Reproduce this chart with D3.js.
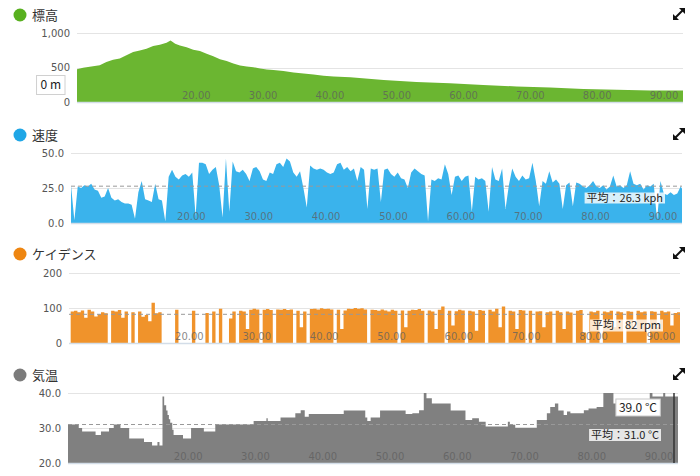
<!DOCTYPE html>
<html><head><meta charset="utf-8">
<script src="https://cdn.jsdelivr.net/npm/d3@7"></script>
<style>body{margin:0;background:#fff;} svg{display:block;}</style>
</head><body><svg id="c" width="700" height="476"></svg>
<script>
// ---------- DATA ----------
const elevKm = [0, 0.9, 1.9, 3.4, 4.4, 5.4, 6.4, 7.4, 8.4, 9.4, 10.4, 11.4, 12.4, 13.4, 14.0, 14.7, 15.4, 16.4, 17.4, 18.4, 19.4, 20.4, 21.4, 22.4, 23.4, 24.4, 25.4, 26.4, 27.4, 28.4, 29.4, 30.9, 32.4, 33.9, 35.4, 36.9, 38.4, 40.9, 45.9, 50.8, 55.8, 60.8, 65.8, 70.8, 75.8, 80.8, 85.8, 91];
const elevVal = [476, 495, 510, 533, 581, 614, 629, 676, 724, 748, 771, 810, 829, 857, 890, 843, 819, 795, 757, 738, 700, 662, 619, 595, 557, 529, 514, 505, 486, 471, 462, 448, 429, 414, 400, 381, 371, 357, 319, 290, 271, 248, 224, 210, 190, 176, 167, 167];

const sampleStepKm = 0.5;
const speedVal = [
 27, 2, 26, 25, 27, 26, 28, 24, 23, 18,
 19, 25, 18, 16, 17, 15, 14, 14, 13, 3,
 22, 30, 17, 16, 15, 28, 17, 16, 1, 33,
 38, 33, 31, 34, 35, 33, 36, 5, 43, 43,
 42, 35, 38, 40, 27, 4, 46, 8, 44, 37,
 36, 38, 35, 30, 39, 40, 37, 31, 30, 36,
 35, 42, 43, 40, 46, 44, 36, 33, 37, 25,
 11, 41, 39, 38, 39, 38, 36, 35, 36, 42,
 43, 38, 40, 37, 39, 30, 40, 38, 10, 39,
 38, 39, 15, 38, 39, 35, 33, 36, 32, 31,
 25, 36, 39, 37, 35, 34, 1, 31, 30, 32,
 31, 42, 35, 20, 33, 34, 30, 33, 34, 8,
 33, 31, 32, 30, 8, 40, 31, 30, 39, 10,
 27, 39, 33, 30, 34, 31, 32, 43, 30, 12,
 30, 28, 37, 29, 31, 28, 10, 27, 29, 12,
 29, 28, 26, 25, 27, 30, 26, 25, 27, 24,
 26, 34, 26, 27, 25, 27, 37, 28, 27, 28,
 24, 27, 26, 28, 2, 30, 21, 20, 22, 20,
 21, 26, 22];

const cadenceVal = [
 0, 90, 92, 88, 93, 72, 95, 90, 76, 82,
 88, 85, 0, 92, 90, 94, 72, 90, 0, 88,
 0, 90, 75, 80, 62, 115, 85, 88, 0, 0,
 0, 0, 95, 0, 0, 0, 0, 92, 0, 0,
 0, 86, 0, 90, 0, 98, 0, 0, 70, 90,
 0, 92, 90, 40, 95, 98, 96, 0, 95, 97,
 94, 0, 96, 95, 97, 94, 96, 0, 92, 45,
 90, 0, 97, 98, 96, 99, 97, 98, 96, 0,
 95, 40, 93, 98, 97, 100, 98, 99, 96, 0,
 95, 94, 92, 96, 93, 90, 95, 92, 0, 93,
 45, 92, 95, 94, 97, 92, 0, 93, 90, 40,
 95, 104, 0, 92, 50, 91, 95, 93, 0, 92,
 90, 35, 94, 92, 0, 95, 90, 98, 45, 104,
 0, 92, 90, 40, 94, 93, 0, 92, 0, 90,
 91, 45, 88, 90, 0, 92, 88, 40, 90, 87,
 0, 92, 94, 30, 0, 90, 88, 92, 0, 90,
 88, 92, 45, 90, 88, 0, 91, 89, 40, 92,
 88, 90, 0, 91, 89, 45, 92, 88, 90, 50,
 86, 88, 85];

const tempKm  = [0, 1.6, 2.1, 4.1, 4.9, 6.1, 6.8, 7.8, 9.1, 11.3, 12.5, 13.3, 13.6, 14.05, 14.3, 14.6, 14.8, 15.0, 15.2, 15.5, 15.7, 17.1, 18.3, 20.2, 21.9, 27.6, 29.5, 29.7, 31.6, 33.8, 34.6, 35.2, 35.8, 41.0, 44.2, 44.5, 45.0, 46.4, 50.2, 51.2, 52.2, 52.9, 53.3, 54.1, 56.9, 59.1, 60.1, 61.1, 62.1, 65.4, 65.7, 66.5, 69.7, 71.2, 71.7, 72.4, 72.9, 73.7, 74.2, 74.7, 76.7, 77.4, 78.6, 79.6, 81.1, 81.9, 86.5, 86.9, 88.5, 88.8, 91];
const tempVal = [31, 30, 29, 28, 29, 30, 31, 30, 27, 26, 25, 26, 25, 39, 36.5, 35, 33.7, 32.5, 31.5, 29.5, 28, 27, 30, 29, 31, 32, 32.8, 32, 33, 34.2, 35.1, 33.2, 34, 35, 33, 32, 33, 35, 34, 34.2, 35.1, 40, 38.5, 37, 35, 32.3, 32.8, 31.8, 30.4, 31.8, 30.9, 30.1, 32.3, 34.2, 36, 37, 35, 33.7, 34.7, 34.2, 35.1, 35.6, 36, 40, 37, 38, 40, 39, 40, 39, 39];

const xTickVals = [20, 30, 40, 50, 60, 70, 80, 90];
const titles = ["標高", "速度", "ケイデンス", "気温"];
const yTicks = [[0, 500, 1000], [0, 25, 50], [0, 100, 200], [20, 30, 40]];
const yDomains = [[0, 1000], [0, 50], [0, 200], [20, 40]];
const avgValues = [null, 26.3, 82, 31.0];
const avgLabels = [null, "平均：26.3 kph", "平均：82 rpm", "平均：31.0 °C"];
const xMaxKm = 90.7;

// ---------- BUILD SERIES ----------
const stepped = arr => arr.map((v, i) => ({x: i * sampleStepKm, y: v}));
const series = [
  elevKm.map((k, i) => ({x: k, y: elevVal[i]})),
  stepped(speedVal),
  stepped(cadenceVal),
  tempKm.map((k, i) => ({x: k, y: tempVal[i]}))
];

// ---------- LAYOUT ----------
const panels = [
  {left: 77, right: 683, top: 33, bottom: 102, titleY: 15, fill: "#6bb631", dot: "#58b01f", fmt: d3.format(","), curve: d3.curveLinear},
  {left: 71, right: 682, top: 153, bottom: 223, titleY: 135, fill: "#3ab3ec", dot: "#1fa6e6", fmt: d3.format(".1f"), curve: d3.curveLinear},
  {left: 69, right: 680, top: 273, bottom: 343, titleY: 254, fill: "#f0932b", dot: "#ee8611", fmt: d3.format("d"), curve: d3.curveStep},
  {left: 68, right: 678, top: 393, bottom: 463, titleY: 375, fill: "#808080", dot: "#7b7b7b", fmt: d3.format(".1f"), curve: d3.curveStepAfter}
];

const svg = d3.select("#c");
const tickFont = "DejaVu Sans, sans-serif";
const cjkFont = "'Noto Sans CJK JP', sans-serif";

function labelBox(g, text, right, cy, opts) {
  const t = g.append("text").attr("x", right - opts.padR).attr("y", cy).attr("dy", "0.36em")
    .attr("text-anchor", "end").attr("font-family", cjkFont).attr("font-size", opts.size)
    .attr("fill", "#222").text(text);
  const bb = t.node().getBBox();
  g.insert("rect", () => t.node())
    .attr("x", bb.x - opts.padL).attr("y", cy - opts.h / 2)
    .attr("width", bb.width + opts.padL + opts.padR).attr("height", opts.h)
    .attr("fill", opts.bg).attr("stroke", opts.stroke || "none").attr("stroke-width", 1);
}

panels.forEach((p, i) => {
  const g = svg.append("g");
  const x = d3.scaleLinear().domain([0, xMaxKm]).range([p.left, p.right]);
  const y = d3.scaleLinear().domain(yDomains[i]).range([p.bottom, p.top]);

  // title
  g.append("circle").attr("cx", 20).attr("cy", p.titleY).attr("r", 6.5).attr("fill", p.dot);
  g.append("text").attr("x", 32).attr("y", p.titleY).attr("dy", "0.36em")
    .attr("font-family", cjkFont).attr("font-size", 13).attr("fill", "#333").text(titles[i]);

  // expand icon
  const ix = 679, iy = p.titleY - 1;
  g.append("path").attr("d", `M${ix-3.5},${iy+3.5}L${ix+3.5},${iy-3.5}`).attr("stroke", "#111").attr("stroke-width", 2);
  g.append("path").attr("d", `M${ix+6},${iy-6}L${ix},${iy-6}L${ix+6},${iy}Z`).attr("fill", "#111");
  g.append("path").attr("d", `M${ix-6},${iy+6}L${ix-6},${iy}L${ix},${iy+6}Z`).attr("fill", "#111");

  // gridlines
  g.selectAll(".grid").data(yTicks[i].slice(1)).join("line")
    .attr("x1", p.left).attr("x2", p.right).attr("y1", d => Math.round(y(d)) + 0.5).attr("y2", d => Math.round(y(d)) + 0.5)
    .attr("stroke", "#e4e4e4").attr("stroke-width", 1);

  // area
  const clipId = "clip" + i;
  svg.append("clipPath").attr("id", clipId).append("rect")
    .attr("x", p.left).attr("y", p.top - 5).attr("width", p.right - p.left).attr("height", p.bottom - p.top + 5);
  const area = d3.area().x(d => x(d.x)).y0(y(yDomains[i][0])).y1(d => y(d.y)).curve(p.curve);
  g.append("path").datum(series[i]).attr("d", area).attr("fill", p.fill).attr("clip-path", `url(#${clipId})`);

  // baseline
  g.append("line").attr("x1", p.left).attr("x2", p.right).attr("y1", p.bottom + 0.5).attr("y2", p.bottom + 0.5)
    .attr("stroke", "#d3dde8").attr("stroke-width", 1.5);

  // y tick labels
  g.selectAll(".yl").data(yTicks[i]).join("text")
    .attr("x", p.left - 7).attr("y", d => y(d)).attr("dy", "0.36em").attr("text-anchor", "end")
    .attr("font-family", tickFont).attr("font-size", 10).attr("fill", "#555").text(d => p.fmt(d));

  // x tick labels (right-aligned to tick, inside plot)
  g.selectAll(".xl").data(xTickVals).join("text")
    .attr("x", d => x(d)).attr("y", p.bottom - 3).attr("text-anchor", "end")
    .attr("font-family", tickFont).attr("font-size", 10).attr("fill", "#5e5e5e").attr("fill-opacity", 0.75)
    .text(d => d3.format(".2f")(d));

  // average line
  if (avgValues[i] !== null) {
    const ay = y(avgValues[i]);
    g.append("line").attr("x1", p.left).attr("x2", p.right).attr("y1", ay).attr("y2", ay)
      .attr("stroke", "#999").attr("stroke-width", 1).attr("stroke-dasharray", "4,3");
  }
  p.x = x; p.y = y; p.g = g;
});

// annotation labels
labelBox(panels[0].g, "0 m", 65, 85, {size: 12, padL: 4, padR: 4, h: 19, bg: "#fff", stroke: "#d0d0d0"});
labelBox(panels[1].g, avgLabels[1], 665, 198, {size: 11, padL: 2, padR: 2, h: 11, bg: "rgba(255,255,255,0.8)"});
labelBox(panels[2].g, avgLabels[2], 663, 325.5, {size: 11, padL: 2, padR: 2, h: 12, bg: "rgba(255,255,255,0.78)"});
labelBox(panels[3].g, avgLabels[3], 661, 435, {size: 11, padL: 2, padR: 2, h: 12, bg: "rgba(255,255,255,0.8)"});
// cursor line and value in temperature panel
const tp = panels[3];
tp.g.append("line").attr("x1", 674).attr("x2", 674).attr("y1", tp.top).attr("y2", tp.bottom)
  .attr("stroke", "#333").attr("stroke-width", 1.5);
labelBox(tp.g, "39.0 °C", 660, 407.5, {size: 12, padL: 3, padR: 3, h: 17, bg: "#fff", stroke: "#c8c8c8"});
</script></body></html>
